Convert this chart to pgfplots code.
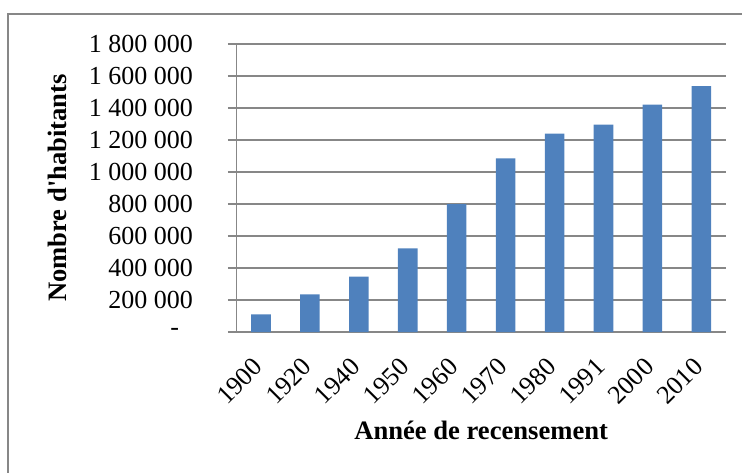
\documentclass[border=0pt]{standalone}
\usepackage{fontspec}
\setmainfont{Liberation Serif}
\usepackage{pgfplots}
\pgfplotsset{compat=1.18}
\definecolor{barblue}{HTML}{4F81BD}
\definecolor{linegray}{HTML}{878787}
\begin{document}
\begin{tikzpicture}[x=1pt,y=1pt]
\useasboundingbox (0,0) rectangle (742,472);
\draw[linegray, line width=1.3pt] (8,-20) -- (8,458) -- (760,458);
\begin{axis}[
    at={(236.5pt,140pt)}, anchor=south west,
    scale only axis,
    width=489.3pt, height=288pt,
    font=\fontsize{26}{31}\selectfont,
    ybar, bar width=19.6pt,
    xmin=-0.5, xmax=9.5,
    ymin=0, ymax=1800000,
    scaled y ticks=false,
    xtick=data,
    xticklabels={1900,1920,1940,1950,1960,1970,1980,1991,2000,2010},
    ytick={0,200000,400000,600000,800000,1000000,1200000,1400000,1600000,1800000},
    yticklabels={\makebox[22.5pt][l]{-},200 000,400 000,600 000,800 000,1 000 000,1 200 000,1 400 000,1 600 000,1 800 000},
    axis lines=left,
    axis line style={-, linegray, line width=1.3pt},
    ymajorgrids,
    grid style={linegray, line width=1.3pt},
    x tick style={draw=none},
    y tick style={linegray, line width=1.3pt},
    tick align=outside,
    major tick length=8.5pt,
    yticklabel style={anchor=east, inner sep=0pt, xshift=-35pt},
    xticklabel style={xshift=-3pt, yshift=-22pt, rotate=45, anchor=east, inner sep=0pt},
    xlabel={\fontsize{26.6}{31}\selectfont\bfseries Année de recensement},
    ylabel={\fontsize{26.6}{31}\selectfont\bfseries Nombre d\textquotesingle habitants},
    xlabel style={at={(axis description cs:0.5,0)}, anchor=base, yshift=-107pt},
    ylabel style={at={(axis description cs:0,0.5)}, anchor=center, yshift=179pt},
]
\addplot[fill=barblue, draw=none] coordinates {
    (0,110000) (1,235000) (2,346000) (3,523000) (4,800000)
    (5,1085000) (6,1240000) (7,1296000) (8,1421000) (9,1537000)
};
\end{axis}
\end{tikzpicture}
\end{document}
